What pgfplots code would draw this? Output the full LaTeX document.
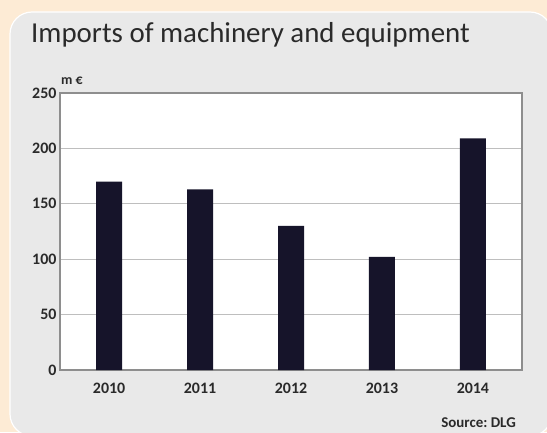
\documentclass[border=0pt]{standalone}
\usepackage{pgfplots}
\pgfplotsset{compat=1.18}
\usepackage{fontspec}
\setmainfont{Carlito}
\frenchspacing
\definecolor{peach}{HTML}{FDEBD5}
\definecolor{panel}{HTML}{E9E9E9}
\definecolor{barnavy}{HTML}{16142A}
\definecolor{gridgray}{HTML}{BEBEBE}
\definecolor{boxgray}{HTML}{8E8E8E}
\definecolor{txt}{HTML}{2A2A2A}
\begin{document}
\begin{tikzpicture}[x=1bp,y=1bp]
\useasboundingbox (0,0) rectangle (547,432);
\clip (0,0) rectangle (547,432);
\fill[peach] (0,0) rectangle (547,432);
\fill[panel,draw=white,line width=1.2bp,rounded corners=22bp] (10,-4) rectangle (552,420);
\node[anchor=base west,font=\fontsize{29}{31}\selectfont,text=txt,inner sep=0] at (31,389) {Imports of machinery and equipment};
\begin{axis}[
    at={(60bp,62bp)}, anchor=south west,
    scale only axis, width=462bp, height=277bp,
    axis background/.style={fill=white},
    xmin=-0.54, xmax=4.54, ymin=0, ymax=250,
    xtick={0,1,2,3,4},
    xticklabels={2010,2011,2012,2013,2014},
    ytick={0,50,100,150,200,250},
    major tick length=0pt,
    ymajorgrids, grid style={gridgray,line width=1.2bp},
    axis line style={boxgray,line width=1.2bp},
    tick label style={font=\fontsize{16}{17}\selectfont\bfseries,text=txt},
    /pgf/number format/assume math mode=true,
    xticklabel style={yshift=-10bp},
    ybar, bar width=26bp,
]
\addplot[fill=barnavy, draw=none] coordinates {(0,170) (1,163) (2,130) (3,102) (4,209)};
\end{axis}
\node[anchor=base west,font=\fontsize{14}{15}\selectfont\bfseries,text=txt,inner sep=0] at (61,348) {m €};
\node[anchor=base east,font=\fontsize{15}{16}\selectfont\bfseries,text=txt,inner sep=0] at (516,5) {Source: DLG};
\end{tikzpicture}
\end{document}
